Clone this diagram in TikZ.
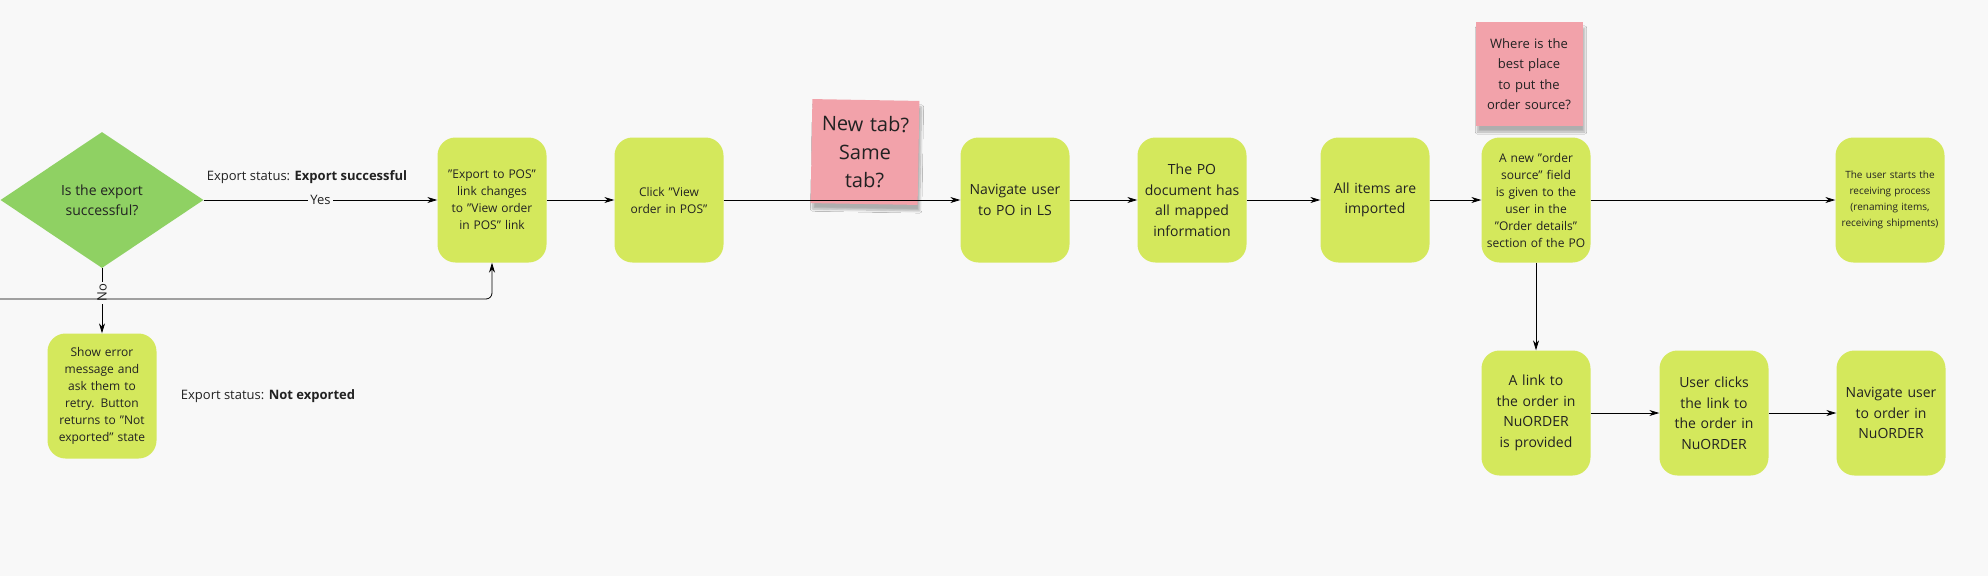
\documentclass[tikz,border=0pt]{standalone}
\usepackage{fontspec}
\setmainfont{Open Sans}
\usetikzlibrary{arrows.meta,shapes.geometric,shadows.blur}
\definecolor{bg}{HTML}{F8F8F8}
\definecolor{boxg}{HTML}{D4E85C}
\definecolor{diag}{HTML}{8FD163}
\definecolor{pink}{HTML}{F2A2AA}
\definecolor{txt}{HTML}{222222}
\begin{document}
\begin{tikzpicture}[x=1pt,y=-1pt,
  stepbox/.style={fill=boxg,rounded corners=18pt,minimum width=109pt,minimum height=125pt,text width=100pt,align=center,inner sep=2pt,text=txt,font=\fontsize{12}{17}\selectfont},
  bigbox/.style={stepbox,font=\fontsize{14}{20.5}\selectfont},
  sticky/.style={fill=pink,minimum width=107pt,minimum height=104pt,text width=100pt,align=center,inner sep=2pt,text=txt,blur shadow={shadow xshift=2pt,shadow yshift=-6pt,shadow blur steps=8,shadow opacity=30}},
  conn/.style={draw=black,line width=0.8pt,-{Stealth[length=10pt,width=6pt]}},
  lbl/.style={font=\fontsize{13}{16}\selectfont,text=txt}]
\fill[bg] (0,0) rectangle (1988,576);
\useasboundingbox (0,0) rectangle (1988,576);
\node[diamond,fill=diag,minimum width=203pt,minimum height=136pt,inner sep=0pt,align=center,font=\fontsize{14}{20}\selectfont,text=txt] (d) at (102,200) {Is the export\\successful?};
\node[stepbox] (b1) at (492,200) {"Export to POS" link changes to "View order in POS" link};
\node[stepbox] (b2) at (669,200) {Click "View order in POS"};
\node[sticky,rotate=-1,font=\fontsize{20}{28}\selectfont] (s1) at (865,152) {New tab?\\Same\\tab?};
\node[bigbox] (b3) at (1015,200) {Navigate user to PO in LS};
\node[bigbox] (b4) at (1192,200) {The PO document has all mapped information};
\node[bigbox] (b5) at (1375,200) {All items are imported};
\node[stepbox] (b6) at (1536,200) {A new "order source" field is given to the user in the "Order details" section of the PO};
\node[sticky,font=\fontsize{13}{20.5}\selectfont] (s2) at (1529,74) {Where is the best place to put the order source?};
\node[stepbox,font=\fontsize{10}{16}\selectfont] (b7) at (1890,200) {The user starts the receiving process (renaming items, receiving shipments)};
\node[bigbox] (c1) at (1536,413) {A link to the order in NuORDER is provided};
\node[bigbox] (c2) at (1714,413) {User clicks the link to the order in NuORDER};
\node[bigbox] (c3) at (1891,413) {Navigate user to order in NuORDER};
\node[stepbox] (e) at (102,396) {Show error message and ask them to retry. Button returns to "Not exported" state};
\coordinate (left) at (0,299);
\draw[conn] (d.east) -- node[fill=bg,lbl,inner sep=2pt]{Yes} (b1.west);
\node[lbl] at (307,177) {Export status: \textbf{Export successful}};
\node[lbl] at (268,396) {Export status: \textbf{Not exported}};
\draw[conn] (d.south) -- node[pos=0.38,fill=bg,lbl,rotate=90,inner sep=2pt]{No} (e.north);
\draw[conn,rounded corners=6pt] (left) -| (b1.south);
\draw[conn] (b1) -- (b2);
\draw[conn] (b2) -- (b3);
\draw[conn] (b3) -- (b4);
\draw[conn] (b4) -- (b5);
\draw[conn] (b5) -- (b6);
\draw[conn] (b6) -- (b7);
\draw[conn] (b6) -- (c1);
\draw[conn] (c1) -- (c2);
\draw[conn] (c2) -- (c3);
\end{tikzpicture}
\end{document}
